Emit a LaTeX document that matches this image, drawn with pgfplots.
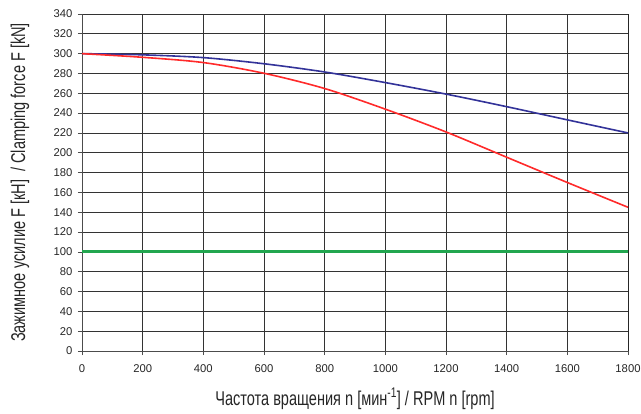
\documentclass[border=0pt]{standalone}
\usepackage{fontspec}
\setmainfont{Liberation Sans}
\usepackage{graphicx}
\usepackage{pgfplots}
\pgfplotsset{compat=1.18}

\definecolor{curveblue}{HTML}{333399}
\definecolor{curvered}{HTML}{FF2A2A}
\definecolor{limitgreen}{HTML}{22A64F}

\newcommand{\cond}[1]{\scalebox{0.73}[1]{#1}}

\begin{document}
\begin{tikzpicture}
\useasboundingbox (-82bp,-63bp) rectangle (559bp,351bp);
\begin{axis}[
  at={(0,0)}, anchor=south west,
  scale only axis,
  width=546bp, height=337bp,
  xmin=0, xmax=1800, ymin=0, ymax=340,
  xtick={0,200,...,1800},
  ytick={0,20,...,340},
  grid=major,
  major grid style={black!80, line width=0.7bp},
  axis line style={black!70, line width=0.7bp},
  tick style={black!70, line width=0.7bp},
  tick align=outside,
  major tick length=4bp,
  axis x line*=bottom,
  axis y line*=left,
  tick label style={font=\fontsize{11.3}{13}\selectfont, text=black!85},
  /pgf/number format/assume math mode=true,
  /pgf/number format/1000 sep={},
  xticklabel style={yshift=-6bp},
  yticklabel style={xshift=-2bp},
  xlabel={\cond{Частота вращения n [мин\textsuperscript{-1}] / RPM n [rpm]}},
  ylabel={\cond{Зажимное усилие F [кН]~ / Clamping force F [kN]}},
  label style={font=\fontsize{20}{22}\selectfont, text=black!85},
  xlabel style={at={(axis description cs:0.5,0)}, anchor=center, yshift=-48bp},
  ylabel style={at={(axis description cs:0,0.5)}, anchor=center, rotate=0, yshift=62bp},
  clip=false,
]
% right border of the plotting area
\draw[black!85, line width=0.8bp] (axis cs:1800,0) -- (axis cs:1800,340);

% blue characteristic
\addplot[curveblue, line width=1.6bp, smooth] coordinates {
  (0,300) (200,298.8) (400,296) (600,289.8) (800,281.5) (1000,270.8)
  (1200,259.2) (1400,246.5) (1600,233.2) (1800,220)
};
% red characteristic
\addplot[curvered, line width=1.6bp, smooth] coordinates {
  (0,300) (200,296.3) (400,291) (600,280.2) (800,264.8) (1000,244)
  (1200,221) (1400,195.5) (1600,170) (1800,145)
};
% minimum clamping force
\addplot[limitgreen, line width=2.8bp] coordinates {(0,100) (1800,100)};
\end{axis}
\end{tikzpicture}
\end{document}
